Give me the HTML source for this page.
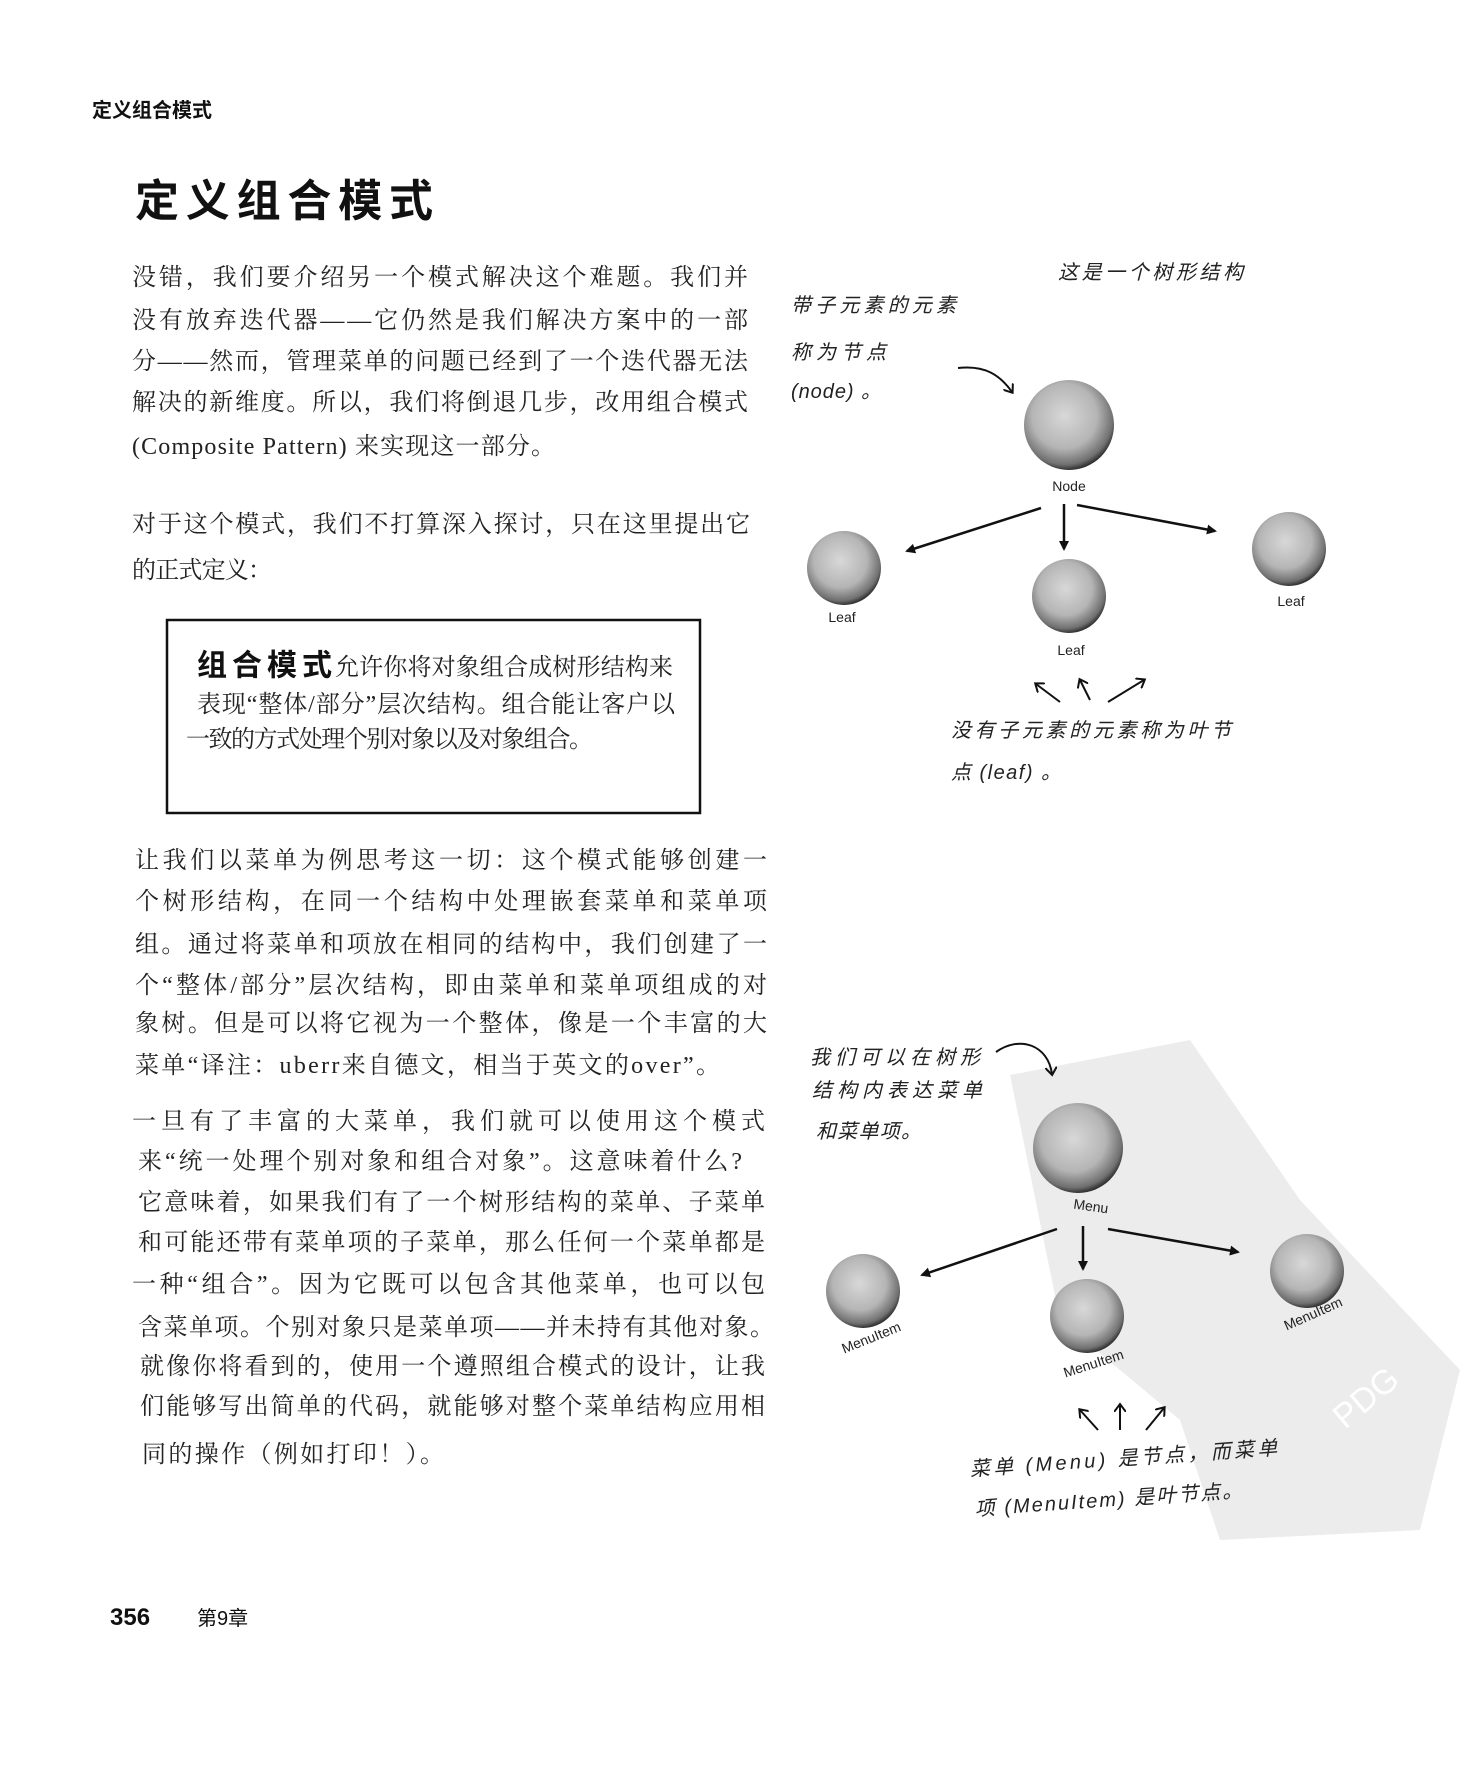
<!DOCTYPE html>
<html><head><meta charset="utf-8">
<style>
html,body{margin:0;padding:0;background:#fff;}
svg{display:block;}
.t{font-family:"Liberation Serif","Noto Serif CJK SC","Noto Sans CJK SC",serif;font-size:24px;fill:#222;}
.h{font-family:"Liberation Sans","Noto Sans CJK SC",sans-serif;fill:#111;}
.hw{font-family:"Liberation Sans","WenQuanYi Zen Hei","Noto Sans CJK SC",sans-serif;font-size:20px;fill:#222;font-style:italic;}
.lb{font-family:"Liberation Sans",sans-serif;font-size:14px;fill:#222;}
</style></head><body>
<svg width="1474" height="1774" viewBox="0 0 1474 1774" xmlns="http://www.w3.org/2000/svg">
<defs>
<radialGradient id="sp" cx="45%" cy="40%" r="60%">
<stop offset="0" stop-color="#d8d8d8"/><stop offset="0.6" stop-color="#b5b5b5"/><stop offset="0.9" stop-color="#707070"/><stop offset="1" stop-color="#333"/>
</radialGradient>
<marker id="ah" markerWidth="10" markerHeight="10" refX="8" refY="5" orient="auto" markerUnits="userSpaceOnUse"><path d="M0,0 L10,5 L0,10 Z" fill="#111"/></marker>
<marker id="ah2" markerWidth="12" markerHeight="12" refX="7" refY="6" orient="auto" markerUnits="userSpaceOnUse"><path d="M0,0 L8,6 L0,12" fill="none" stroke="#111" stroke-width="2"/></marker>
</defs>

<!-- watermark -->
<path d="M1010,1075 L1190,1040 L1300,1200 L1460,1370 L1420,1530 L1220,1540 L1180,1420 L1060,1320 Z" fill="#ececec"/>

<text class="h" x="92" y="117" font-size="20" font-weight="bold">定义组合模式</text>
<text class="h" x="135" y="216" font-size="44" font-weight="bold" textLength="298" lengthAdjust="spacing">定义组合模式</text>

<g class="t" dominant-baseline="central">
<text x="132" y="278" textLength="616">没错，我们要介绍另一个模式解决这个难题。我们并</text>
<text x="132" y="321" textLength="616">没有放弃迭代器——它仍然是我们解决方案中的一部</text>
<text x="132" y="362" textLength="616">分——然而，管理菜单的问题已经到了一个迭代器无法</text>
<text x="132" y="403" textLength="616">解决的新维度。所以，我们将倒退几步，改用组合模式</text>
<text x="132" y="447" textLength="423">(Composite Pattern) 来实现这一部分。</text>
<text x="132" y="525" textLength="618">对于这个模式，我们不打算深入探讨，只在这里提出它</text>
<text x="132" y="571" textLength="140">的正式定义：</text>

<text x="135" y="861" textLength="632">让我们以菜单为例思考这一切：这个模式能够创建一</text>
<text x="135" y="902" textLength="632">个树形结构，在同一个结构中处理嵌套菜单和菜单项</text>
<text x="135" y="945" textLength="632">组。通过将菜单和项放在相同的结构中，我们创建了一</text>
<text x="135" y="986" textLength="632">个“整体/部分”层次结构，即由菜单和菜单项组成的对</text>
<text x="135" y="1024" textLength="632">象树。但是可以将它视为一个整体，像是一个丰富的大</text>
<text x="135" y="1066" textLength="585">菜单“译注：uberr来自德文，相当于英文的over”。</text>

<text x="132" y="1122" textLength="633">一旦有了丰富的大菜单，我们就可以使用这个模式</text>
<text x="138" y="1162" textLength="604">来“统一处理个别对象和组合对象”。这意味着什么?</text>
<text x="138" y="1203" textLength="627">它意味着，如果我们有了一个树形结构的菜单、子菜单</text>
<text x="138" y="1243" textLength="627">和可能还带有菜单项的子菜单，那么任何一个菜单都是</text>
<text x="132" y="1285" textLength="633">一种“组合”。因为它既可以包含其他菜单，也可以包</text>
<text x="138" y="1328" textLength="636">含菜单项。个别对象只是菜单项——并未持有其他对象。</text>
<text x="140" y="1367" textLength="625">就像你将看到的，使用一个遵照组合模式的设计，让我</text>
<text x="140" y="1407" textLength="625">们能够写出简单的代码，就能够对整个菜单结构应用相</text>
<text x="142" y="1455" textLength="302">同的操作（例如打印！）。</text>
</g>

<!-- definition box -->
<rect x="167" y="620" width="533" height="193" fill="none" stroke="#111" stroke-width="2.5"/>
<g dominant-baseline="central">
<text class="h" x="197" y="666" font-size="30" font-weight="bold" textLength="135">组合模式</text>
<text class="t" x="335" y="668" font-size="21" textLength="338">允许你将对象组合成树形结构来</text>
<text class="t" x="197" y="705" font-size="21" textLength="478">表现“整体/部分”层次结构。组合能让客户以</text>
<text class="t" x="186" y="740" font-size="21" textLength="407">一致的方式处理个别对象以及对象组合。</text>
</g>

<!-- diagram 1 -->
<g class="hw" dominant-baseline="central">
<text x="1058" y="273" textLength="185">这是一个树形结构</text>
<text x="791" y="306" textLength="165">带子元素的元素</text>
<text x="791" y="353" textLength="95">称为节点</text>
<text x="791" y="392" textLength="90">(node) 。</text>
<text x="951" y="731" textLength="280">没有子元素的元素称为叶节</text>
<text x="951" y="773" textLength="110">点 (leaf) 。</text>
</g>
<path d="M958,368 C985,365 1000,375 1012,392" fill="none" stroke="#111" stroke-width="2" marker-end="url(#ah2)"/>
<circle cx="1069" cy="425" r="45" fill="url(#sp)"/>
<text class="lb" x="1069" y="491" text-anchor="middle">Node</text>
<line x1="1041" y1="508" x2="907" y2="551" stroke="#111" stroke-width="2.5" marker-end="url(#ah)"/>
<line x1="1064" y1="504" x2="1064" y2="549" stroke="#111" stroke-width="2.5" marker-end="url(#ah)"/>
<line x1="1077" y1="505" x2="1215" y2="531" stroke="#111" stroke-width="2.5" marker-end="url(#ah)"/>
<circle cx="844" cy="568" r="37" fill="url(#sp)"/>
<circle cx="1069" cy="596" r="37" fill="url(#sp)"/>
<circle cx="1289" cy="549" r="37" fill="url(#sp)"/>
<text class="lb" x="842" y="622" text-anchor="middle">Leaf</text>
<text class="lb" x="1071" y="655" text-anchor="middle">Leaf</text>
<text class="lb" x="1291" y="606" text-anchor="middle">Leaf</text>
<path d="M1060,702 L1036,684" stroke="#111" stroke-width="2" marker-end="url(#ah2)"/>
<path d="M1090,700 L1080,680" stroke="#111" stroke-width="2" marker-end="url(#ah2)"/>
<path d="M1108,702 L1144,680" stroke="#111" stroke-width="2" marker-end="url(#ah2)"/>

<!-- diagram 2 -->
<g class="hw" dominant-baseline="central">
<text x="810" y="1058" textLength="170">我们可以在树形</text>
<text x="812" y="1091" textLength="170">结构内表达菜单</text>
<text x="816" y="1132" textLength="105">和菜单项。</text>
<g transform="rotate(-4 970 1470)">
<text x="970" y="1470" textLength="308">菜单 (Menu) 是节点，而菜单</text>
<text x="972" y="1510" textLength="268">项 (MenuItem) 是叶节点。</text>
</g>
</g>
<path d="M996,1052 C1020,1035 1048,1045 1052,1074" fill="none" stroke="#111" stroke-width="2" marker-end="url(#ah2)"/>
<circle cx="1078" cy="1148" r="45" fill="url(#sp)"/>
<text class="lb" x="1091" y="1211" text-anchor="middle" transform="rotate(8 1091 1206)">Menu</text>
<line x1="1057" y1="1229" x2="922" y2="1275" stroke="#111" stroke-width="2.5" marker-end="url(#ah)"/>
<line x1="1083" y1="1226" x2="1083" y2="1269" stroke="#111" stroke-width="2.5" marker-end="url(#ah)"/>
<line x1="1108" y1="1229" x2="1238" y2="1252" stroke="#111" stroke-width="2.5" marker-end="url(#ah)"/>
<circle cx="863" cy="1291" r="37" fill="url(#sp)"/>
<circle cx="1087" cy="1316" r="37" fill="url(#sp)"/>
<circle cx="1307" cy="1271" r="37" fill="url(#sp)"/>
<text class="lb" x="873" y="1342" text-anchor="middle" transform="rotate(-22 873 1342)">MenuItem</text>
<text class="lb" x="1095" y="1368" text-anchor="middle" transform="rotate(-18 1095 1368)">MenuItem</text>
<text class="lb" x="1315" y="1318" text-anchor="middle" transform="rotate(-24 1315 1318)">MenuItem</text>
<path d="M1098,1430 L1080,1410" stroke="#111" stroke-width="2" marker-end="url(#ah2)"/>
<path d="M1120,1430 L1120,1405" stroke="#111" stroke-width="2" marker-end="url(#ah2)"/>
<path d="M1146,1430 L1164,1408" stroke="#111" stroke-width="2" marker-end="url(#ah2)"/>
<text x="1345" y="1430" font-family="Liberation Sans,sans-serif" font-size="34" fill="#fff" transform="rotate(-40 1345 1430)">PDG</text>

<!-- footer -->
<text class="h" x="110" y="1625" font-size="24" font-weight="bold">356</text>
<text class="h" x="197" y="1625" font-size="20">第9章</text>
</svg>
</body></html>
